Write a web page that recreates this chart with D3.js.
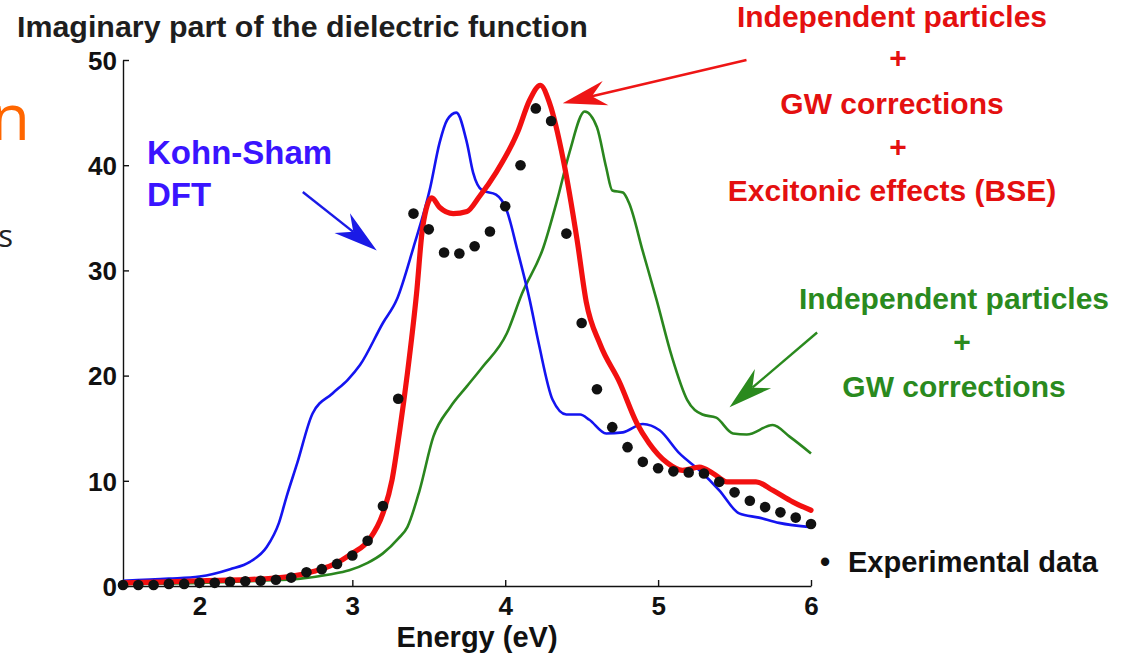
<!DOCTYPE html>
<html>
<head>
<meta charset="utf-8">
<script src="https://cdn.jsdelivr.net/npm/d3@7"></script>
<style>
  html, body { margin: 0; padding: 0; background: #fff; }
  svg { display: block; font-family: "Liberation Sans", Arial, Helvetica, sans-serif; }
</style>
</head>
<body>
<svg id="chart" width="1131" height="653"></svg>
<script>
// ---- Spectra: imaginary part of the dielectric function vs photon energy (eV) ----

// Kohn-Sham DFT
const ksEnergy = [1.5, 1.8, 2.0, 2.2, 2.33, 2.44, 2.52, 2.57, 2.64, 2.74, 2.87, 2.97, 3.05, 3.2, 3.29, 3.4, 3.51, 3.57, 3.62, 3.68, 3.75, 3.79, 3.85, 3.94, 4.01, 4.08, 4.16, 4.22, 4.31, 4.4, 4.49, 4.55, 4.66, 4.77, 4.9, 5.01, 5.14, 5.27, 5.4, 5.53, 5.66, 5.79, 6.0];
const ksEps    = [0.5, 0.7, 0.9, 1.6, 2.3, 3.7, 6.0, 8.5, 11.7, 16.4, 18.3, 19.6, 21.0, 25.0, 27.2, 32.2, 37.9, 42.1, 44.3, 45.0, 42.1, 39.3, 37.6, 37.2, 35.7, 31.9, 27.2, 23.0, 17.7, 16.3, 16.3, 15.8, 14.5, 14.6, 15.4, 14.8, 12.6, 11.0, 9.1, 6.9, 6.5, 6.0, 5.6];

// Independent particles + GW corrections
const gwEnergy = [1.5, 2.0, 2.4, 2.66, 2.85, 2.98, 3.1, 3.2, 3.3, 3.36, 3.44, 3.53, 3.64, 3.75, 3.85, 4.01, 4.11, 4.25, 4.34, 4.42, 4.52, 4.6, 4.66, 4.7, 4.77, 4.81, 4.9, 4.99, 5.09, 5.19, 5.29, 5.38, 5.49, 5.58, 5.75, 5.86, 6.0];
const gwEps    = [0.2, 0.3, 0.5, 0.7, 1.1, 1.5, 2.2, 3.1, 4.5, 5.6, 9.1, 14.2, 17.0, 19.0, 20.8, 24.0, 27.8, 32.2, 36.7, 41.2, 45.1, 43.6, 39.8, 37.6, 37.4, 36.4, 31.8, 27.2, 21.8, 17.7, 16.3, 16.0, 14.5, 14.4, 15.3, 14.2, 12.6];

// Independent particles + GW corrections + excitonic effects (BSE)
const bseEnergy = [1.5, 1.8, 2.0, 2.3, 2.59, 2.75, 2.87, 3.0, 3.11, 3.2, 3.26, 3.31, 3.36, 3.42, 3.46, 3.52, 3.57, 3.66, 3.75, 3.83, 3.94, 4.08, 4.16, 4.23, 4.29, 4.38, 4.47, 4.53, 4.62, 4.75, 4.86, 4.94, 5.06, 5.16, 5.27, 5.36, 5.45, 5.64, 5.75, 5.88, 6.0];
const bseEps    = [0.3, 0.4, 0.5, 0.6, 0.9, 1.4, 2.0, 3.1, 4.4, 6.9, 10.1, 14.8, 20.2, 27.8, 34.1, 36.9, 36.0, 35.4, 35.6, 37.0, 39.3, 43.1, 46.2, 47.6, 45.9, 40.5, 32.9, 27.0, 23.0, 19.3, 15.5, 13.6, 11.7, 11.0, 11.3, 10.7, 9.9, 9.9, 9.1, 8.0, 7.2];

// Experimental data, one point every 0.1 eV
const expEnergy = [1.5, 1.6, 1.7, 1.8, 1.9, 2.0, 2.1, 2.2, 2.3, 2.4, 2.5, 2.6, 2.7, 2.8, 2.9, 3.0, 3.1, 3.2, 3.3, 3.4, 3.5, 3.6, 3.7, 3.8, 3.9, 4.0, 4.1, 4.2, 4.3, 4.4, 4.5, 4.6, 4.7, 4.8, 4.9, 5.0, 5.1, 5.2, 5.3, 5.4, 5.5, 5.6, 5.7, 5.8, 5.9, 6.0];
const expEps    = [0.1, 0.1, 0.1, 0.2, 0.2, 0.3, 0.3, 0.4, 0.45, 0.5, 0.6, 0.8, 1.3, 1.6, 2.1, 2.9, 4.3, 7.6, 17.8, 35.4, 33.9, 31.7, 31.6, 32.3, 33.7, 36.1, 40.0, 45.4, 44.2, 33.5, 25.0, 18.7, 15.1, 13.2, 11.8, 11.2, 10.9, 10.8, 10.7, 9.9, 8.9, 8.1, 7.5, 7.0, 6.5, 5.9];

// Axis ticks
const xTicks = [2, 3, 4, 5, 6];
const yTicks = [0, 10, 20, 30, 40, 50];

// Annotation arrows: [tailE, tailEps, tipE, tipEps]
const ksArrow  = [2.676, 37.45, 3.16, 31.9];
const bseArrow = [5.578, 50.0, 4.376, 45.9];
const gwArrow  = [6.04, 24.1, 5.467, 17.0];

// ---- Drawing ----
const svg = d3.select("#chart");
const x = d3.scaleLinear().domain([1.5, 6]).range([123, 811]);
const y = d3.scaleLinear().domain([0, 50]).range([586, 60]);

const COL = {
  ks: "#1414f0", gw: "#2a861e", bse: "#f21010",
  ksText: "#3a14ff", gwText: "#2a8a1e", bseText: "#e41010"
};

// Slide text fragments at the left edge
svg.append("text").attr("x", 30).attr("y", 140).attr("text-anchor", "end")
  .style("font-family", "'Open Sans','Noto Sans',sans-serif").style("font-size", "64px")
  .attr("fill", "#ff6600").text("n");
svg.append("text").attr("x", 13).attr("y", 247).attr("text-anchor", "end")
  .style("font-family", "'Open Sans','Noto Sans',sans-serif").style("font-size", "31px")
  .attr("fill", "#222").text("s");

// Title
svg.append("text").attr("x", 17).attr("y", 37)
  .style("font-size", "30.4px").style("font-weight", "bold")
  .attr("fill", "#1e1e1e").text("Imaginary part of the dielectric function");

// Axes (ticks point inward)
const xAxis = d3.axisBottom(x).tickValues(xTicks).tickFormat(d3.format("d"))
  .tickSizeInner(-6).tickSizeOuter(0).tickPadding(11);
const yAxis = d3.axisLeft(y).tickValues(yTicks).tickFormat(d3.format("d"))
  .tickSizeInner(-6).tickSizeOuter(0).tickPadding(6);

const gx = svg.append("g").attr("transform", `translate(0,${y(0)})`).call(xAxis);
const gy = svg.append("g").attr("transform", `translate(${x(1.5)},0)`).call(yAxis);
[gx, gy].forEach(g => {
  g.select(".domain").attr("stroke", "#111").attr("stroke-width", 1.4);
  g.selectAll(".tick line").attr("stroke", "#111").attr("stroke-width", 1.4);
  g.selectAll(".tick text").attr("fill", "#111")
    .style("font-size", "26px").style("font-weight", "bold")
    .style("font-family", "'Liberation Sans', Arial, sans-serif");
});
gy.selectAll(".tick text").attr("dy", "0.36em");

// Axis label
svg.append("text").attr("x", 477).attr("y", 647).attr("text-anchor", "middle")
  .style("font-size", "29px").style("font-weight", "bold")
  .attr("fill", "#111").text("Energy (eV)");

// Curves
const line = d3.line().x(d => x(d[0])).y(d => y(d[1])).curve(d3.curveMonotoneX);
const zip = (a, b) => a.map((v, i) => [v, b[i]]);

svg.append("path").datum(zip(gwEnergy, gwEps)).attr("d", line)
  .attr("fill", "none").attr("stroke", COL.gw).attr("stroke-width", 2.6).attr("stroke-linejoin", "round");
svg.append("path").datum(zip(ksEnergy, ksEps)).attr("d", line)
  .attr("fill", "none").attr("stroke", COL.ks).attr("stroke-width", 2.6).attr("stroke-linejoin", "round");
svg.append("path").datum(zip(bseEnergy, bseEps)).attr("d", line)
  .attr("fill", "none").attr("stroke", COL.bse).attr("stroke-width", 5.2)
  .attr("stroke-linejoin", "round").attr("stroke-linecap", "round");

// Experimental points
svg.append("g").selectAll("circle").data(zip(expEnergy, expEps)).join("circle")
  .attr("cx", d => x(d[0])).attr("cy", d => y(d[1])).attr("r", 5.3).attr("fill", "#111");

// Arrows
function arrow(spec, color, width) {
  const [e0, v0, e1, v1] = spec;
  const x0 = x(e0), y0 = y(v0), x1 = x(e1), y1 = y(v1);
  const len = Math.hypot(x1 - x0, y1 - y0);
  const ux = (x1 - x0) / len, uy = (y1 - y0) / len;
  const px = -uy, py = ux;
  const L = 44, W = 12.5, N = 30;
  svg.append("line").attr("x1", x0).attr("y1", y0)
    .attr("x2", x1 - ux * N).attr("y2", y1 - uy * N)
    .attr("stroke", color).attr("stroke-width", width);
  const pts = [
    [x1, y1],
    [x1 - ux * L + px * W, y1 - uy * L + py * W],
    [x1 - ux * N, y1 - uy * N],
    [x1 - ux * L - px * W, y1 - uy * L - py * W]
  ];
  svg.append("path").attr("d", "M" + pts.map(p => p.join(",")).join("L") + "Z")
    .attr("fill", color);
}
arrow(ksArrow, "#1a1ae6", 2.4);
arrow(bseArrow, "#ee1515", 2.4);
arrow(gwArrow, "#2a8a1e", 2.4);

// Labels
function label(xc, yb, txt, color, size, anchor) {
  svg.append("text").attr("x", xc).attr("y", yb).attr("text-anchor", anchor || "middle")
    .style("font-size", size + "px").style("font-weight", "bold")
    .attr("fill", color).text(txt);
}
label(147, 164, "Kohn-Sham", COL.ksText, 33, "start");
label(147, 206, "DFT", COL.ksText, 33, "start");

label(892, 27, "Independent particles", COL.bseText, 30);
label(898, 68, "+", COL.bseText, 30);
label(892, 114, "GW corrections", COL.bseText, 30);
label(898, 157, "+", COL.bseText, 30);
label(892, 201, "Excitonic effects (BSE)", COL.bseText, 30);

label(954, 309, "Independent particles", COL.gwText, 30);
label(962, 352, "+", COL.gwText, 30);
label(954, 397, "GW corrections", COL.gwText, 30);

label(825, 572, "•", "#111", 29);
label(848, 572, "Experimental data", "#111", 29, "start");
</script>
</body>
</html>
